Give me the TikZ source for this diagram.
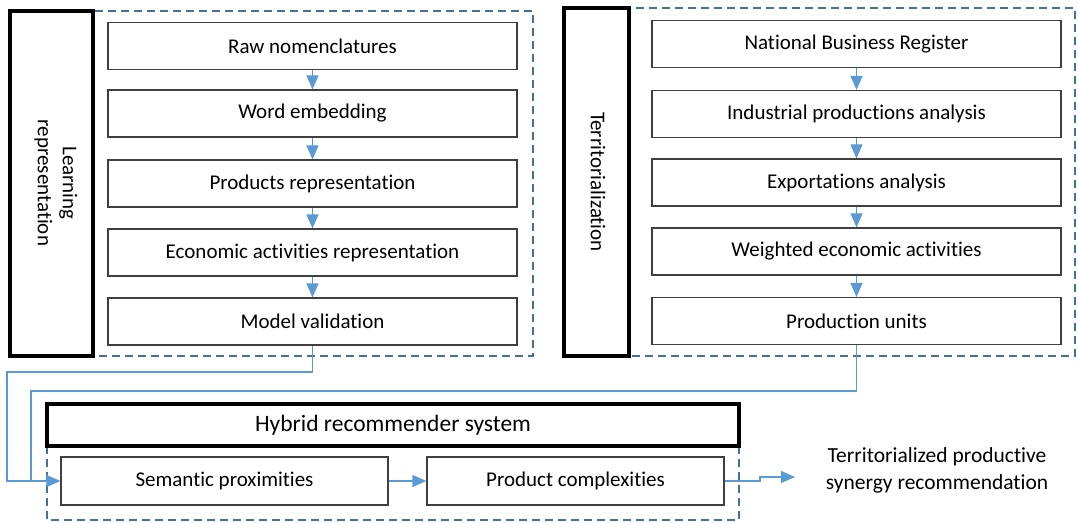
\documentclass[tikz,border=0pt]{standalone}
\usepackage{fontspec}
\setmainfont[Ligatures=NoCommon]{Carlito}
\usetikzlibrary{arrows.meta,positioning}
\definecolor{arrowblue}{HTML}{5B9BD5}
\definecolor{dashblue}{HTML}{41719C}
\definecolor{boxgray}{HTML}{3F3F3F}
\tikzset{
  stepbox/.style={draw=boxgray, line width=1.2bp, fill=white, minimum width=409bp, minimum height=47bp, inner sep=0pt, font=\fontsize{21bp}{25bp}\selectfont},
  thickbox/.style={draw=black, line width=3.5bp},
  dashbox/.style={draw=dashblue, line width=2.5bp, dash pattern=on 8bp off 5bp},
  flow/.style={draw=arrowblue, line width=1.2bp, -{Triangle[length=14bp,width=12bp]}},
  link/.style={draw=arrowblue, line width=1.2bp},
  lbl/.style={font=\fontsize{21bp}{25bp}\selectfont, align=center, inner sep=0pt}
}
\begin{document}
\begin{tikzpicture}[x=1bp,y=-1bp]
\useasboundingbox (0,0) rectangle (1078,523);
% group frames
\draw[dashbox] (93,11) rectangle (533,356);
\draw[thickbox] (10,11) rectangle (93,356);
\node[lbl, rotate=-90, text width=300bp] (lrlabel) at (56,183) {Learning\\representation};
\draw[dashbox] (629,8) rectangle (1075,356);
\draw[thickbox] (564,8) rectangle (629,356);
\node[lbl, rotate=-90] (trlabel) at (598,182) {Territorialization};
% left steps
\node[stepbox] (raw) at (312.5,46) {Raw nomenclatures};
\node[stepbox] (word) at (312.5,113.5) {Word embedding};
\node[stepbox] (prod) at (312.5,183.5) {Products representation};
\node[stepbox] (econ) at (312.5,252.5) {Economic activities representation};
\node[stepbox] (model) at (312.5,321.5) {Model validation};
\draw[flow] (raw) -- (word);
\draw[flow] (word) -- (prod);
\draw[flow] (prod) -- (econ);
\draw[flow] (econ) -- (model);
% right steps
\node[stepbox] (nbr) at (856.5,44) {National Business Register};
\node[stepbox] (ipa) at (856.5,114) {Industrial productions analysis};
\node[stepbox] (exa) at (856.5,182.5) {Exportations analysis};
\node[stepbox] (wea) at (856.5,251.5) {Weighted economic activities};
\node[stepbox] (pru) at (856.5,321) {Production units};
\draw[flow] (nbr) -- (ipa);
\draw[flow] (ipa) -- (exa);
\draw[flow] (exa) -- (wea);
\draw[flow] (wea) -- (pru);
% bottom group
\draw[dashbox] (47,446) rectangle (739,520);
\node[thickbox, minimum width=692bp, minimum height=42bp, inner sep=0pt, font=\fontsize{23.5bp}{28bp}\selectfont] (hyb) at (393,425) {Hybrid recommender system};
\node[stepbox, minimum width=327bp, minimum height=48bp] (sem) at (224.5,481) {Semantic proximities};
\node[stepbox, minimum width=297bp, minimum height=48bp] (cpx) at (575.5,481) {Product complexities};
\draw[flow] (sem) -- (cpx);
% connectors into semantic proximities
\draw[flow] (model.south) |- (7,372) |- (sem.west);
\draw[link] (pru.south) |- (31,391) -- (31,481);
% output
\coordinate (outtip) at (795,477);
\draw[flow] (cpx.east) -- (760,481) -- (760,477) -- (outtip);
\node[lbl, font=\fontsize{21.5bp}{27bp}\selectfont] (out) at (937,470) {Territorialized productive\\synergy recommendation};
\end{tikzpicture}
\end{document}
